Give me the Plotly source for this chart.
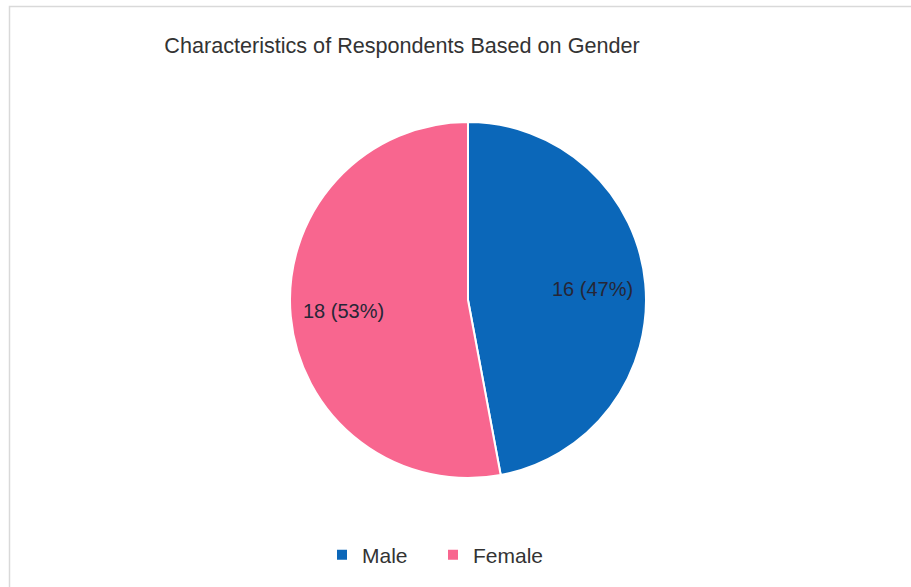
import math
import plotly.graph_objects as go

categories = ["Male", "Female"]
counts = [16, 18]
colors = ["#0b67b9", "#f8668f"]

W, H = 911, 587
cx, cy, r = 468, 300, 178
label_frac = 0.70

fig = go.Figure(go.Pie(
    labels=categories,
    values=counts,
    sort=False,
    direction="clockwise",
    rotation=0,
    marker=dict(colors=colors, line=dict(color="white", width=2)),
    textinfo="none",
    domain=dict(x=[(cx - r) / W, (cx + r) / W], y=[(H - cy - r) / H, (H - cy + r) / H]),
    hoverinfo="label+value+percent",
))

# data labels placed at mid-angle of each slice (computed from the data)
total = sum(counts)
annotations = []
start = 0.0
for cat, v in zip(categories, counts):
    frac = v / total
    mid = (start + frac / 2) * 2 * math.pi
    start += frac
    px = cx + label_frac * r * math.sin(mid)
    py = cy - label_frac * r * math.cos(mid)
    annotations.append(dict(
        x=px / W, y=1 - py / H, xref="paper", yref="paper",
        text=f"{v} ({round(frac * 100)}%)", showarrow=False,
        font=dict(size=20, color="#262636"), xanchor="center", yanchor="middle"))

fig.update_layout(
    width=W, height=H,
    margin=dict(l=0, r=0, t=0, b=0),
    paper_bgcolor="white",
    font=dict(family="Liberation Sans, Arial, sans-serif", color="#333333"),
    title=dict(text="Characteristics of Respondents Based on Gender",
               x=402 / W, xanchor="center", y=1 - 45 / H, yanchor="middle",
               font=dict(size=21.6, color="#333333")),
    legend=dict(orientation="h", x=322 / W, xanchor="left", y=1 - 555 / H, yanchor="middle",
                font=dict(size=21, color="#333333"), itemwidth=30,
                entrywidth=66, entrywidthmode="pixels"),
    annotations=annotations,
    shapes=[dict(type="rect", xref="paper", yref="paper",
                 x0=9.5 / W, x1=1.05, y0=-0.05, y1=1 - 6.5 / H,
                 line=dict(color="#d9d9d9", width=1.5), fillcolor="rgba(0,0,0,0)", layer="below")],
)

fig.write_html("out.html")
